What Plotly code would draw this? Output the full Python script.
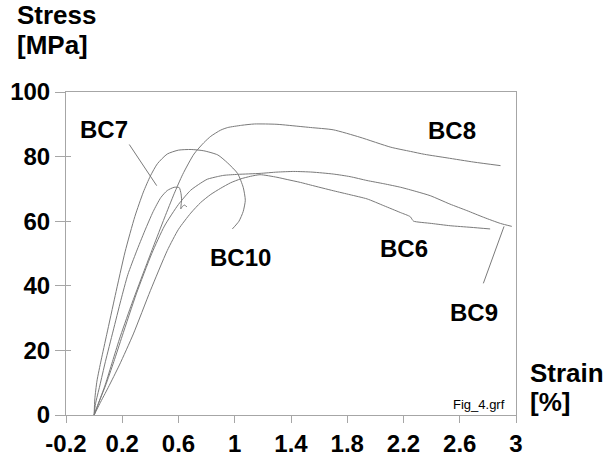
import plotly.graph_objects as go

# ---------------- data ----------------
bc10_strain = [0, 0.005, 0.02, 0.05, 0.09, 0.15, 0.22, 0.29, 0.35, 0.40, 0.45, 0.52, 0.60,
               0.69, 0.78, 0.88, 0.95, 1.02, 1.06, 1.075, 1.06, 1.03, 0.983]
bc10_stress = [0, 5, 10.5, 17, 25, 37, 50.5, 61.5, 69, 74, 77.8, 80.8, 82,
               82.2, 81.8, 80.5, 78, 74.8, 70.5, 66.5, 63, 60, 57.6]

bc7_strain = [0, 0.01, 0.04, 0.08, 0.135, 0.19, 0.24, 0.30, 0.36, 0.42, 0.474, 0.52, 0.569,
              0.605, 0.618, 0.622, 0.616, 0.628, 0.644, 0.659]
bc7_stress = [0, 3.5, 9, 16.5, 26, 35.5, 43.5, 50.5, 57, 63, 67.3, 69.5, 70.5,
              70.4, 68.5, 66.5, 63.8, 64.6, 65.0, 64.4]

bc8_strain = [0, 0.03, 0.08, 0.13, 0.18, 0.26, 0.35, 0.42, 0.50, 0.569, 0.63, 0.71, 0.78,
              0.83, 0.90, 0.95, 1.05, 1.14, 1.30, 1.47, 1.54, 1.70, 1.89, 2.11, 2.25, 2.35,
              2.51, 2.70, 2.89]
bc8_stress = [0, 3.5, 9.5, 16.5, 23.5, 33.5, 44, 52, 61, 68.5, 74.5, 80.8, 84.3,
              86.3, 88.2, 89, 89.7, 90.1, 90, 89.3, 89.0, 88.3, 86, 82.9, 81.6, 80.7,
              79.6, 78.3, 77.2]

bc9_strain = [0, 0.03, 0.08, 0.14, 0.20, 0.30, 0.41, 0.50, 0.60, 0.687, 0.758, 0.805, 0.876,
              0.923, 1.02, 1.18, 1.30, 1.42, 1.55, 1.70, 1.82, 1.94, 2.06, 2.18, 2.29, 2.39,
              2.53, 2.65, 2.77, 2.89, 2.97]
bc9_stress = [0, 3.5, 9, 16.5, 24.5, 37.5, 50, 58.5, 65.2, 69.6, 71.8, 73, 73.8,
              74.2, 74.5, 74.8, 75.2, 75.4, 75.2, 74.6, 73.8, 72.6, 71.6, 70.5, 69.2, 67.9,
              65.3, 63.3, 61.2, 59.3, 58.4]

bc6_strain = [0, 0.04, 0.10, 0.18, 0.279, 0.40, 0.52, 0.60, 0.687, 0.758, 0.83, 0.90, 0.971,
              1.042, 1.113, 1.18, 1.30, 1.373, 1.468, 1.539, 1.704, 1.82, 1.941, 2.06, 2.177,
              2.248, 2.262, 2.272, 2.40, 2.532, 2.68, 2.816]
bc6_stress = [0, 3.5, 8.5, 15.5, 25.1, 38.5, 50.9, 57.5, 62.5, 65.8, 68.3, 70.2, 71.9,
              73.1, 73.9, 74.4, 73.6, 72.9, 72.0, 71.2, 69.4, 68.2, 66.9, 64.8, 62.7,
              61.4, 60.5, 60.0, 59.3, 58.6, 58.1, 57.6]

x_tickvals = [-0.2, 0.2, 0.6, 1.0, 1.4, 1.8, 2.2, 2.6, 3.0]
x_ticktext = ["-0.2", "0.2", "0.6", "1", "1.4", "1.8", "2.2", "2.6", "3"]
y_tickvals = [0, 20, 40, 60, 80, 100]

label_names = ["BC7", "BC8", "BC10", "BC6", "BC9"]
label_x = [0.069, 2.543, 1.043, 2.204, 2.702]
label_y = [88.5, 88.1, 48.8, 51.7, 31.8]

# leader lines: (text-end strain, stress) -> (curve-end strain, stress)
leader_from_x = [0.243, 2.764]
leader_from_y = [84.2, 40.3]
leader_to_x = [0.445, 2.915]
leader_to_y = [71.0, 58.4]

# ---------------- figure ----------------
LINE = dict(color="#7a7a7a", width=1)
FRAME = "#a6a6a6"
FONT = "Liberation Sans, Arial, sans-serif"

fig = go.Figure()
for name, xs, ys in [("BC10", bc10_strain, bc10_stress),
                     ("BC7", bc7_strain, bc7_stress),
                     ("BC8", bc8_strain, bc8_stress),
                     ("BC9", bc9_strain, bc9_stress),
                     ("BC6", bc6_strain, bc6_stress)]:
    fig.add_trace(go.Scatter(x=xs, y=ys, mode="lines", name=name,
                             line=dict(LINE, shape="spline", smoothing=0.6),
                             hoverinfo="skip"))

# invisible trace to carry the inner-tick overlay axis
fig.add_trace(go.Scatter(x=[0], y=[0], yaxis="y2", mode="markers",
                         marker=dict(opacity=0), hoverinfo="skip", showlegend=False))

annotations = []
for t, x, y in zip(label_names, label_x, label_y):
    annotations.append(dict(x=x, y=y, xref="x", yref="y", text="<b>%s</b>" % t,
                            showarrow=False, font=dict(family=FONT, size=24, color="black")))
for x0, y0, x1, y1 in zip(leader_from_x, leader_from_y, leader_to_x, leader_to_y):
    annotations.append(dict(x=x1, y=y1, ax=x0, ay=y0, xref="x", yref="y", axref="x", ayref="y",
                            text="", showarrow=True, arrowhead=0, arrowwidth=1,
                            arrowcolor="#7a7a7a", standoff=0, startstandoff=0))

title_font = dict(family=FONT, size=26, color="black")
annotations += [
    dict(x=-0.1133, y=1.239, xref="paper", yref="paper", text="<b>Stress</b>", showarrow=False,
         xanchor="left", yanchor="middle", font=title_font),
    dict(x=-0.1133, y=1.145, xref="paper", yref="paper", text="<b>[MPa]</b>", showarrow=False,
         xanchor="left", yanchor="middle", font=title_font),
    dict(x=1.0267, y=0.130, xref="paper", yref="paper", text="<b>Strain</b>", showarrow=False,
         xanchor="left", yanchor="middle", font=title_font),
    dict(x=1.0267, y=0.040, xref="paper", yref="paper", text="<b>[%]</b>", showarrow=False,
         xanchor="left", yanchor="middle", font=title_font),
    dict(x=0.979, y=0.034, xref="paper", yref="paper", text="Fig_4.grf", showarrow=False,
         xanchor="right", yanchor="middle", font=dict(family=FONT, size=13, color="black")),
]

fig.update_layout(
    width=610, height=459,
    margin=dict(l=66, r=94, t=92, b=44, pad=0, autoexpand=False),
    paper_bgcolor="white", plot_bgcolor="white",
    showlegend=False,
    annotations=annotations,
    xaxis=dict(range=[-0.2, 3.0], tickvals=x_tickvals, ticktext=x_ticktext, automargin=False,
               showgrid=False, zeroline=False, showline=True, linecolor=FRAME, linewidth=1,
               mirror=True, ticks="outside", ticklen=7, tickcolor=FRAME, tickwidth=1,
               tickfont=dict(family=FONT, size=24, color="black", weight="bold")),
    yaxis=dict(range=[0, 100], tickvals=y_tickvals, automargin=False,
               showgrid=False, zeroline=False, showline=True, linecolor=FRAME, linewidth=1,
               mirror=True, ticks="outside", ticklen=10, tickcolor=FRAME, tickwidth=1,
               tickfont=dict(family=FONT, size=24, color="black", weight="bold")),
    yaxis2=dict(range=[0, 100], tickvals=y_tickvals, overlaying="y", side="left",
                automargin=False,
                showgrid=False, zeroline=False, showline=False, showticklabels=False,
                ticks="inside", ticklen=5, tickcolor=FRAME, tickwidth=1),
)

# remove the browser's default body margin so the figure fills the window exactly
fig.write_html("out.html", config={"displayModeBar": False},
               post_script="document.body.style.margin='0px';document.body.style.overflow='hidden';")
